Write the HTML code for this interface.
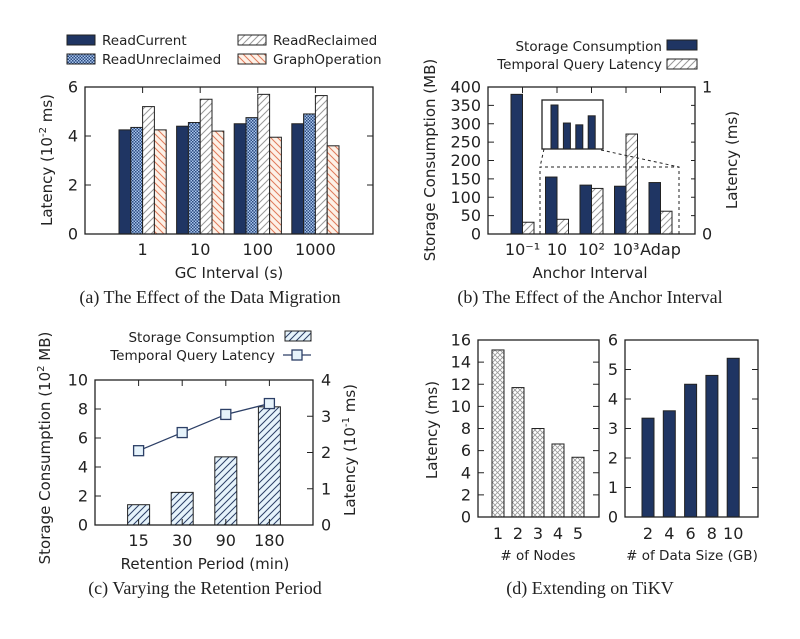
<!DOCTYPE html>
<html><head><meta charset="utf-8"><style>
body{margin:0;background:#fff;}
svg{display:block;}
text{font-family:"DejaVu Sans","Liberation Sans",sans-serif;fill:#222;}
.cap{font-family:"Liberation Serif",serif;font-size:18px;}
.tk{font-size:16px;}
.lg{font-size:13.5px;}
.ax{font-size:15px;}
</style></head><body>
<svg id="fig" width="800" height="639" viewBox="0 0 800 639">
<defs>
<pattern id="checker" width="3" height="3" patternUnits="userSpaceOnUse"><rect width="3" height="3" fill="#a9c6ec"/><rect width="1.5" height="1.5" fill="#2c4a80"/><rect x="1.5" y="1.5" width="1.5" height="1.5" fill="#2c4a80"/></pattern>
<pattern id="hgray" width="7" height="7" patternUnits="userSpaceOnUse"><rect width="7" height="7" fill="#fff"/><path d="M0,7 L7,0 M-1,1 L1,-1 M6,8 L8,6" stroke="#999" stroke-width="1"/></pattern>
<pattern id="hred" width="7" height="7" patternUnits="userSpaceOnUse"><rect width="7" height="7" fill="#fdf1e7"/><path d="M0,0 L7,7 M-1,6 L1,8 M6,-1 L8,1" stroke="#e07a5a" stroke-width="1"/></pattern>
<pattern id="hnavy" width="7" height="7" patternUnits="userSpaceOnUse"><rect width="7" height="7" fill="#e6f3fb"/><path d="M0,7 L7,0 M-1,1 L1,-1 M6,8 L8,6" stroke="#2c3f66" stroke-width="1"/></pattern>
<pattern id="cross" width="5" height="5" patternUnits="userSpaceOnUse"><rect width="5" height="5" fill="#fff"/><path d="M0,0 L5,5 M5,0 L0,5" stroke="#999" stroke-width="0.8"/></pattern>
</defs>
<g id="root"></g>
</svg>
<script>
// (a)
const aCats=["1","10","100","1000"];
const aReadCurrent=[4.25,4.4,4.5,4.5];
const aReadUnreclaimed=[4.35,4.55,4.75,4.9];
const aReadReclaimed=[5.2,5.5,5.7,5.65];
const aGraphOp=[4.25,4.2,3.95,3.6];
const aTicks=[0,2,4,6];
// (b)
const bCats=["10⁻¹","10","10²","10³","Adap"];
const bStorage=[380,155,133,130,140];
const bLatency=[0.08,0.1,0.31,0.68,0.155];
const bInset=[350,300,295,320];
const bTicksL=[0,50,100,150,200,250,300,350,400];
const bTicksR=[0,1];
// (c)
const cCats=["15","30","90","180"];
const cStorage=[1.4,2.25,4.7,8.15];
const cLatency=[2.05,2.55,3.05,3.35];
const cTicksL=[0,2,4,6,8,10];
const cTicksR=[0,1,2,3,4];
// (d)
const dNodes=["1","2","3","4","5"];
const dNodeLat=[15.1,11.7,8.0,6.6,5.4];
const dSizes=["2","4","6","8","10"];
const dSizeLat=[3.35,3.6,4.5,4.8,5.38];
const dTicksL=[0,2,4,6,8,10,12,14,16];
const dTicksR=[0,1,2,3,4,5,6];

const NS="http://www.w3.org/2000/svg";
const root=document.getElementById('root');
function mk(tag,attrs,parent,txt){const e=document.createElementNS(NS,tag);for(const k in attrs)e.setAttribute(k,attrs[k]);if(txt!==undefined)e.textContent=txt;(parent||root).appendChild(e);return e;}
function lin(d0,d1,r0,r1){return v=>r0+(v-d0)/(d1-d0)*(r1-r0);}
function frame(x0,y0,x1,y1,name){const r=mk('rect',{x:x0,y:y0,width:x1-x0,height:y1-y0,fill:'none',stroke:'#222','stroke-width':1.3});}
function yTicks(ticks,y,x0,x1,side,labelX,name){ticks.forEach(t=>{const yy=y(t);
 const inner=side==='l'?x0:x1;const dir=side==='l'?1:-1;
 mk('line',{x1:inner,y1:yy,x2:inner+dir*6,y2:yy,stroke:'#222'});
 const tx=mk('text',{x:labelX,y:yy+5.5,'text-anchor':side==='l'?'end':'start',class:'tk'},root,String(t));
 });}
function mirrorTicks(ticks,y,x1){ticks.forEach(t=>{const yy=y(t);mk('line',{x1:x1,y1:yy,x2:x1-6,y2:yy,stroke:'#222'});});}
function xTicks(xs,y0,y1,labels,ly,name){xs.forEach((x,i)=>{mk('line',{x1:x,y1:y0,x2:x,y2:y0+6,stroke:'#222'});mk('line',{x1:x,y1:y1,x2:x,y2:y1-6,stroke:'#222'});
 const t=mk('text',{x:x,y:ly,'text-anchor':'middle',class:'tk'},root,labels[i]);});}
function bar(x,w,y0,yv,fill,name,stroke){const r=mk('rect',{x:x,y:Math.min(y0,yv),width:w,height:Math.abs(y0-yv),fill:fill,stroke:stroke||'#222','stroke-width':1});return r;}
function label(x,y,txt,cls,name,rot,anchor){const a={x:x,y:y,'text-anchor':anchor||'middle',class:cls};if(rot)a.transform=`rotate(${rot} ${x} ${y})`;const t=mk('text',a,root,txt);return t;}
function labelHTML(x,y,html,cls,name,rot){const a={x:x,y:y,'text-anchor':'middle',class:cls};if(rot)a.transform=`rotate(${rot} ${x} ${y})`;const t=mk('text',a);t.innerHTML=html;return t;}
const NAVY='#1f3563';

// ===== (a)
{const X0=85,X1=373,Y0=87,Y1=234;const y=lin(0,6,Y1,Y0);const gx=i=>lin(0,5,X0,X1)(i+1);const w=11.8;
 const series=[[aReadCurrent,NAVY,'read-current'],[aReadUnreclaimed,'url(#checker)','read-unreclaimed'],[aReadReclaimed,'url(#hgray)','read-reclaimed'],[aGraphOp,'url(#hred)','graph-operation']];
 aCats.forEach((c,i)=>{series.forEach((s,j)=>{bar(gx(i)-2*w+j*w,w,Y1,y(s[0][i]),s[1],'bar-'+s[2]+'-'+c);});});
 frame(X0,Y0,X1,Y1,'plot-a-frame');
 yTicks(aTicks,y,X0,X1,'l',78,'a-y');mirrorTicks(aTicks,y,X1);
 xTicks(aCats.map((c,i)=>gx(i)),Y1-6,Y0+6,aCats,255,'a-x');
 labelHTML(52,160,'Latency (10<tspan dy="-6" font-size="10">-2</tspan><tspan dy="6"> ms)</tspan>','ax','a-y-axis-title',-90);
 label(229,278,'GC Interval (s)','ax','a-x-axis-title');
 const lg=[[67,45,NAVY,'ReadCurrent'],[67,64,'url(#checker)','ReadUnreclaimed'],[238,45,'url(#hgray)','ReadReclaimed'],[238,64,'url(#hred)','GraphOperation']];
 lg.forEach(l=>{const r=mk('rect',{x:l[0],y:l[1]-10,width:28,height:10,fill:l[2],stroke:'#222'});label(l[0]+35,l[1]+0,l[3],'lg','legend-entry',0,'start');});
 label(210,303,'(a)  The Effect of the Data Migration','cap','caption-a');
}
// ===== (b)
{const X0=488,X1=695,Y0=87,Y1=234;const yl=lin(0,400,Y1,Y0);const yr=lin(0,1,Y1,Y0);const gx=i=>lin(0,6,X0,X1)(i+1);const w=11.5;
 bCats.forEach((c,i)=>{bar(gx(i)-w,w,Y1,yl(bStorage[i]),NAVY,'bar-storage-'+i);bar(gx(i),w,Y1,yr(bLatency[i]),'url(#hgray)','bar-latency-'+i);});
 mk('path',{d:`M540,${Y1} L540,167 L679,167 L679,${Y1}`,fill:'none',stroke:'#222','stroke-dasharray':'3,3'});
 mk('line',{x1:544,y1:149,x2:540,y2:167,stroke:'#222','stroke-dasharray':'3,3'});
 mk('line',{x1:601,y1:150,x2:679,y2:167,stroke:'#222','stroke-dasharray':'3,3'});
 const IX0=542,IX1=603,IY0=100,IY1=149;const iy=lin(228,350,IY1,105);
 mk('rect',{x:IX0,y:IY0,width:IX1-IX0,height:IY1-IY0,fill:'#fff',stroke:'#222','stroke-width':1.3});
 bInset.forEach((v,i)=>{bar(551+i*12.4,7,IY1,Math.min(IY1-1,iy(v)),NAVY,'inset-bar-'+i);});
 frame(X0,Y0,X1,Y1,'plot-b-frame');
 yTicks(bTicksL,yl,X0,X1,'l',481,'b-y-left');
 bTicksR.forEach(t=>{mk('line',{x1:X1,y1:yr(t),x2:X1-6,y2:yr(t),stroke:'#222'});label(702,yr(t)+5.5,String(t),'tk','b-y-right-tick-label',0,'start');});
 bTicksL.forEach(t=>{mk('line',{x1:X1,y1:yl(t),x2:X1-4,y2:yl(t),stroke:'#222'});});
 xTicks(bCats.map((c,i)=>gx(i)),Y1-6,Y0+6,bCats,255,'b-x');
 label(435,160,'Storage Consumption (MB)','ax','b-y-axis-title-left',-90);
 label(737,160,'Latency (ms)','ax','b-y-axis-title-right',-90);
 label(590,278,'Anchor Interval','ax','b-x-axis-title');
 label(662,51,'Storage Consumption','lg','legend-entry-storage',0,'end');
 label(662,69,'Temporal Query Latency','lg','legend-entry-latency',0,'end');
 mk('rect',{x:667,y:40,width:30,height:10,fill:NAVY,stroke:'#222'});
 mk('rect',{x:667,y:59,width:30,height:10,fill:'url(#hgray)',stroke:'#222'});
 label(590,303,'(b)  The Effect of the Anchor Interval','cap','caption-b');
}
// ===== (c)
{const X0=95,X1=313,Y0=380,Y1=525;const yl=lin(0,10,Y1,Y0);const yr=lin(0,4,Y1,Y0);const gx=i=>lin(0,5,X0,X1)(i+1);const w=22;
 cCats.forEach((c,i)=>{bar(gx(i)-w/2,w,Y1,yl(cStorage[i]),'url(#hnavy)','bar-storage-'+c);});
 const pts=cLatency.map((v,i)=>gx(i)+','+yr(v)).join(' ');
 const pl=mk('polyline',{points:pts,fill:'none',stroke:'#2c3f66','stroke-width':1.3});
 cLatency.forEach((v,i)=>{const r=mk('rect',{x:gx(i)-5,y:yr(v)-5,width:10,height:10,fill:'#e6f3fb',stroke:'#2c3f66','stroke-width':1.3});});
 frame(X0,Y0,X1,Y1,'plot-c-frame');
 yTicks(cTicksL,yl,X0,X1,'l',88,'c-y-left');
 cTicksR.forEach(t=>{mk('line',{x1:X1,y1:yr(t),x2:X1-6,y2:yr(t),stroke:'#222'});label(321,yr(t)+5.5,String(t),'tk','c-y-right-tick-label',0,'start');});
 xTicks(cCats.map((c,i)=>gx(i)),Y1-6,Y0+6,cCats,546,'c-x');
 labelHTML(50,448,'Storage Consumption (10<tspan dy="-6" font-size="10">2</tspan><tspan dy="6"> MB)</tspan>','ax','c-y-axis-title-left',-90);
 labelHTML(355,450,'Latency (10<tspan dy="-6" font-size="10">-1</tspan><tspan dy="6"> ms)</tspan>','ax','c-y-axis-title-right',-90);
 label(205,569,'Retention Period (min)','ax','c-x-axis-title');
 label(275,342,'Storage Consumption','lg','legend-entry-storage',0,'end');
 label(275,360,'Temporal Query Latency','lg','legend-entry-latency',0,'end');
 mk('rect',{x:285,y:331,width:26,height:10,fill:'url(#hnavy)',stroke:'#222'});
 mk('line',{x1:283,y1:355,x2:311,y2:355,stroke:'#2c3f66','stroke-width':1.3});
 mk('rect',{x:292,y:350,width:10,height:10,fill:'#e6f3fb',stroke:'#2c3f66','stroke-width':1.3});
 label(205,594,'(c)  Varying the Retention Period','cap','caption-c');
}
// ===== (d)
{const Y0=340,Y1=517;
 {const X0=478,X1=599;const y=lin(0,16,Y1,Y0);const gx=i=>498+i*20;const w=12;
  dNodes.forEach((c,i)=>bar(gx(i)-w/2,w,Y1,y(dNodeLat[i]),'url(#cross)','bar-nodes-'+c));
  frame(X0,Y0,X1,Y1,'plot-d1-frame');
  yTicks(dTicksL,y,X0,X1,'l',471,'d1-y');mirrorTicks(dTicksL,y,X1);
  dNodes.forEach((c,i)=>label(gx(i),539,c,'tk','d1-x-tick-label'));
  label(437,430,'Latency (ms)','ax','d-y-axis-title',-90);
  label(538,560,'# of Nodes','lg','d1-x-axis-title');}
 {const X0=625,X1=758;const y=lin(0,6,Y1,Y0);const gx=i=>648+i*21.3;const w=12;
  dSizes.forEach((c,i)=>bar(gx(i)-w/2,w,Y1,y(dSizeLat[i]),NAVY,'bar-size-'+c));
  frame(X0,Y0,X1,Y1,'plot-d2-frame');
  yTicks(dTicksR,y,X0,X1,'l',618,'d2-y');mirrorTicks(dTicksR,y,X1);
  dSizes.forEach((c,i)=>label(gx(i),539,c,'tk','d2-x-tick-label'));
  label(692,560,'# of Data Size (GB)','lg','d2-x-axis-title');}
 label(590,594,'(d)  Extending on TiKV','cap','caption-d');
}
</script>
</body></html>
